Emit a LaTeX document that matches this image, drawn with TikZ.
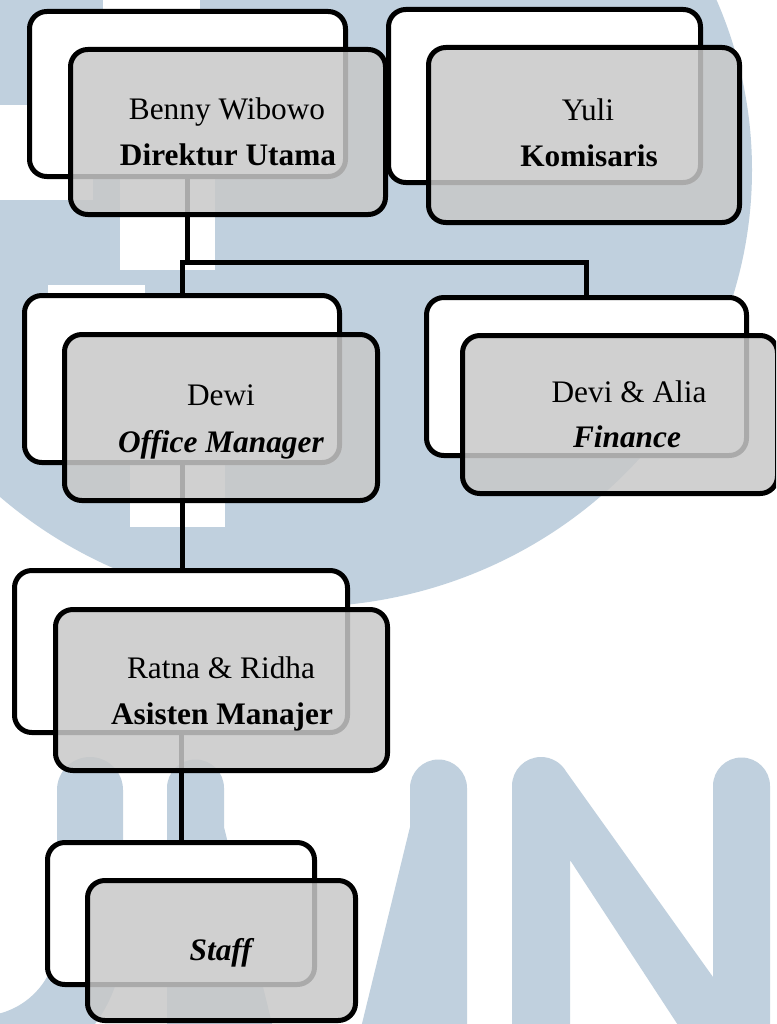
\documentclass[tikz,border=0pt]{standalone}
\usepackage{fontspec}
\setmainfont{Liberation Serif}
\definecolor{wm}{RGB}{192,208,222}
\definecolor{boxgray}{RGB}{200,200,200}
\begin{document}
\begin{tikzpicture}[x=0.75pt,y=-0.75pt,
  sz/.style 2 args={minimum width={#1*0.75pt}, minimum height={#2*0.75pt}},
  backbox/.style={draw=black, line width=3.75pt, fill=white, rounded corners=13pt, inner sep=0pt, outer sep=0pt},
  frontbox/.style={draw=black, line width=3.75pt, fill=boxgray, fill opacity=0.85, rounded corners=13pt, inner sep=0pt, outer sep=0pt},
  conn/.style={draw=black, line width=3.75pt},
  lbl/.style={anchor=base, inner sep=0pt, font=\fontsize{23.5pt}{28pt}\selectfont}]
\useasboundingbox (0,0) rectangle (776,1024);
\clip (0,0) rectangle (776,1024);
\fill[white] (0,0) rectangle (776,1024);
% watermark
\fill[wm] (300,170) ellipse [x radius=452, y radius=437];
\fill[white] (103,-5) rectangle (200,95);
\fill[white] (-5,105) rectangle (93,200);
\fill[white] (120,175) rectangle (215,270);
\fill[white] (48,285) rectangle (145,380);
\fill[white] (130,440) rectangle (225,527);
\fill[wm] (57,939) -- (57,790) arc[start angle=180, end angle=360, radius=33] -- (123,939)
  arc[start angle=0, end angle=90, radius=143] -- (-20,1016)
  arc[start angle=90, end angle=0, radius=77] -- cycle;
\fill[wm] (167,1100) -- (167,788) arc[start angle=180, end angle=360, radius=28.5] -- (224,827) -- (317,1208)
  -- (410,827) -- (410,788) arc[start angle=180, end angle=360, radius=28.5] -- (467,1100) -- cycle;
\fill[wm] (512,1100) -- (512,786) arc[start angle=180, end angle=330, radius=29] -- (713,977) -- (713,786)
  arc[start angle=180, end angle=360, radius=28.5] -- (770,1100) -- (727,1100) -- (570,860) -- (570,1100) -- cycle;
% back boxes
\node[backbox, sz={316}{165}] (bennyW) at (187.5,94) {};
\node[backbox, sz={312}{173}] (yuliW) at (544.5,96) {};
\node[backbox, sz={315}{167}] (dewiW) at (182,379) {};
\node[backbox, sz={320}{158}] (deviW) at (586.5,376.5) {};
\node[backbox, sz={333}{162}] (ratnaW) at (181,651.5) {};
\node[backbox, sz={267}{142}] (staffW) at (181,913.5) {};
% connectors
\coordinate (bus) at (0,262);
\draw[conn] (bennyW.south) -- (bennyW.south |- bus);
\draw[conn] (dewiW.north) -- (dewiW.north |- bus) -- (deviW.north |- bus) -- (deviW.north);
\draw[conn] (dewiW.south) -- (dewiW.south |- ratnaW.north);
\draw[conn] (ratnaW.south) -- (ratnaW.south |- staffW.north);
% front boxes
\node[frontbox, sz={315}{165}] (bennyG) at (228,132) {};
\node[frontbox, sz={311}{175}] (yuliG) at (584,135) {};
\node[frontbox, sz={313}{166}] (dewiG) at (221,417.5) {};
\node[frontbox, sz={315}{158}] (deviG) at (620,414.5) {};
\node[frontbox, sz={332}{161}] (ratnaG) at (221.5,690) {};
\node[frontbox, sz={268}{140}] (staffG) at (221.5,950.5) {};
% texts
\node[lbl] (bennyN) at (227,119) {Benny Wibowo};
\node[lbl] (bennyR) at (228,165) {\textbf{Direktur Utama}};
\node[lbl] (yuliN) at (588,120) {Yuli};
\node[lbl] (yuliR) at (589,166) {\textbf{Komisaris}};
\node[lbl] (dewiN) at (221,405) {Dewi};
\node[lbl] (dewiR) at (221,452) {\textbf{\textit{Office Manager}}};
\node[lbl] (deviN) at (629,402) {Devi \& Alia};
\node[lbl] (deviR) at (627,447) {\textbf{\textit{Finance}}};
\node[lbl] (ratnaN) at (221,678) {Ratna \& Ridha};
\node[lbl] (ratnaR) at (222,724) {\textbf{Asisten Manajer}};
\node[lbl] (staffR) at (222,960) {\textbf{\textit{Staff}}};
\end{tikzpicture}
\end{document}
